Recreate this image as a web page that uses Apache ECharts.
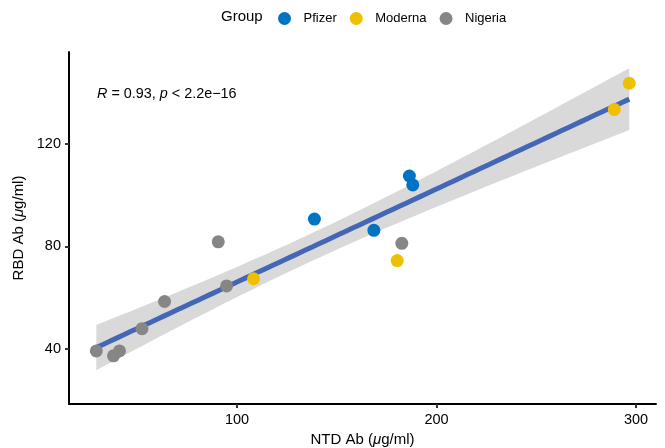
<!DOCTYPE html>
<html>
<head>
<meta charset="utf-8">
<script src="https://cdn.jsdelivr.net/npm/echarts@6/dist/echarts.min.js"></script>
<style>html,body{margin:0;padding:0;background:#fff}#c{width:665px;height:448px}</style>
</head>
<body>
<div id="c"></div>
<script>
// ---- data ----
const groups = ['Pfizer', 'Moderna', 'Nigeria'];
const pfizerX = [138.8, 168.6, 186.4, 188.1];
const pfizerY = [90.7, 86.3, 107.5, 104.0];
const modernaX = [108.3, 180.3, 289.1, 296.6];
const modernaY = [67.4, 74.5, 133.5, 143.7];
const nigeriaX = [29.5, 38.1, 41.1, 52.4, 63.7, 90.6, 94.8, 182.6];
const nigeriaY = [39.2, 37.3, 39.2, 47.9, 58.5, 81.8, 64.6, 81.2];
const xTicks = [100, 200, 300];
const yTicks = [40, 80, 120];
const statLabel = { r: '0.93', p: '2.2e\u221216' };

// ---- linear fit with 95% confidence band (computed from the data) ----
const allX = pfizerX.concat(modernaX, nigeriaX);
const allY = pfizerY.concat(modernaY, nigeriaY);
const n = allX.length;
const mx = allX.reduce((a, b) => a + b, 0) / n;
const my = allY.reduce((a, b) => a + b, 0) / n;
let sxx = 0, sxy = 0;
for (let i = 0; i < n; i++) { sxx += (allX[i] - mx) ** 2; sxy += (allX[i] - mx) * (allY[i] - my); }
const slope = sxy / sxx, icpt = my - slope * mx;
let sse = 0;
for (let i = 0; i < n; i++) sse += (allY[i] - icpt - slope * allX[i]) ** 2;
const s = Math.sqrt(sse / (n - 2));
const tq = 2.145; // t(0.975, 14)
const xmin = Math.min(...allX), xmax = Math.max(...allX);
const fitLine = [], bandUp = [], bandLo = [];
for (let k = 0; k < 80; k++) {
  const x = xmin + (xmax - xmin) * k / 79;
  const yh = icpt + slope * x;
  const se = s * Math.sqrt(1 / n + (x - mx) ** 2 / sxx);
  fitLine.push([x, yh]);
  bandUp.push([x, yh + tq * se]);
  bandLo.push([x, yh - tq * se]);
}

const FONT = '"Liberation Sans", Arial, Helvetica, sans-serif';
const colors = ['#0073C2', '#EFC000', '#868686'];
const chart = echarts.init(document.getElementById('c'), null, { renderer: 'canvas' });

function zip(xs, ys) { return xs.map((x, i) => [x, ys[i]]); }

chart.setOption({
  animation: false,
  textStyle: { fontFamily: FONT },
  grid: { left: 69, right: 9, top: 52, bottom: 44, containLabel: false, outerBoundsMode: 'none' },
  legend: {
    data: groups,
    left: 273, top: 7,
    icon: 'circle',
    itemWidth: 28, itemHeight: 13, itemGap: 13,
    textStyle: { fontFamily: FONT, fontSize: 13, color: '#000' }
  },
  graphic: [
    { type: 'text', left: 221, top: 9, style: { text: 'Group', font: '15px ' + FONT, fill: '#000' } },
    {
      type: 'text', left: 97, top: 87,
      style: {
        text: '{i|R} = ' + statLabel.r + ', {i|p} < ' + statLabel.p,
        font: '14.4px ' + FONT, fill: '#000',
        rich: { i: { fontStyle: 'italic', fontSize: 14.4, fontFamily: FONT } }
      }
    }
  ],
  xAxis: {
    type: 'value', min: 15.8, max: 310,
    name: 'NTD Ab ({i|\u03bc}g/ml)', nameLocation: 'middle', nameGap: 26,
    nameTextStyle: { fontSize: 15, color: '#000', fontFamily: FONT, rich: { i: { fontStyle: 'italic', fontSize: 15, fontFamily: FONT } } },
    axisLine: { lineStyle: { color: '#000', width: 2 } },
    axisTick: { customValues: xTicks, length: 4, lineStyle: { color: '#333', width: 2 } },
    axisLabel: { customValues: xTicks, fontSize: 14.5, color: '#000', margin: 8 },
    splitLine: { show: false }
  },
  yAxis: {
    type: 'value', min: 18.5, max: 155.9,
    name: 'RBD Ab ({i|\u03bc}g/ml)', nameLocation: 'middle', nameGap: 34,
    nameTextStyle: { fontSize: 15, color: '#000', fontFamily: FONT, rich: { i: { fontStyle: 'italic', fontSize: 15, fontFamily: FONT } } },
    axisLine: { show: true, lineStyle: { color: '#000', width: 2 } },
    axisTick: { show: true, customValues: yTicks, length: 4, lineStyle: { color: '#333', width: 2 } },
    axisLabel: { customValues: yTicks, fontSize: 14.5, color: '#000', margin: 8 },
    splitLine: { show: false }
  },
  series: [
    {
      type: 'custom', name: 'band', silent: true, z: 1,
      data: [0],
      renderItem: function (params, api) {
        const pts = bandUp.map(p => api.coord(p)).concat(bandLo.slice().reverse().map(p => api.coord(p)));
        return { type: 'polygon', shape: { points: pts }, style: { fill: '#d9d9d9' } };
      }
    },
    {
      type: 'line', name: 'fit', data: fitLine, showSymbol: false, symbol: 'none', z: 2,
      lineStyle: { color: '#4467B5', width: 5 }
    },
    { type: 'scatter', name: groups[0], data: zip(pfizerX, pfizerY), symbolSize: 13, itemStyle: { color: colors[0], opacity: 1 }, z: 3 },
    { type: 'scatter', name: groups[1], data: zip(modernaX, modernaY), symbolSize: 13, itemStyle: { color: colors[1], opacity: 1 }, z: 3 },
    { type: 'scatter', name: groups[2], data: zip(nigeriaX, nigeriaY), symbolSize: 13, itemStyle: { color: colors[2], opacity: 1 }, z: 3 }
  ]
});
</script>
</body>
</html>
